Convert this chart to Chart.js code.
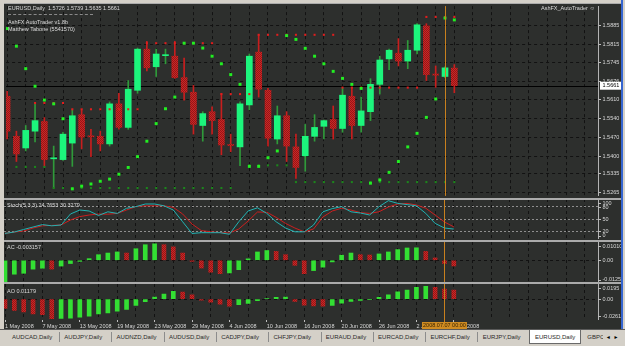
<!DOCTYPE html>
<html>
<head>
<meta charset="utf-8">
<script src="https://cdn.jsdelivr.net/npm/chart.js@4.4.0/dist/chart.umd.min.js"></script>
<style>
  body { margin:0; width:625px; height:346px; background:#d4d0c8; position:relative; overflow:hidden; font-family:'Liberation Sans', Arial, sans-serif; }
  canvas { position:absolute; left:4px; }
  .txt { position:absolute; font-size:5.5px; line-height:6px; color:#dcdcdc; white-space:pre; }
  .sep { position:absolute; left:4px; width:617px; height:2px; background:#ababab; }
  .tab { position:absolute; top:334px; font-size:6px; line-height:6px; color:#2a2a2a; white-space:nowrap; }
  .bar { position:absolute; top:332px; width:1px; height:10px; background:#8c8c8c; }
</style>
</head>
<body>
<div style="position:absolute;left:4px;top:3px;width:617px;height:326px;background:#2d2f2d"></div>
<canvas id="cMain" width="617" height="194" style="top:4px"></canvas>
<canvas id="cStoch" width="617" height="40" style="top:199px"></canvas>
<canvas id="cAc" width="617" height="41" style="top:242px"></canvas>
<canvas id="cAo" width="617" height="45" style="top:284px"></canvas>
<div class="sep" style="top:3px;height:1px"></div>
<div class="sep" style="top:198px"></div>
<div class="sep" style="top:240px"></div>
<div class="sep" style="top:282px"></div>

<div class="txt" id="head" style="left:8px;top:5px"></div>
<div style="position:absolute;left:8px;top:14px;width:85px;border-top:1px dashed #8a8a8a"></div>
<div class="txt" style="left:8px;top:19px">AshFX AutoTrader v1.8b</div>
<div class="txt" style="left:8px;top:26px">Matthew Tabone (5541570)</div>
<div class="txt" style="left:541px;top:5px">AshFX_AutoTrader ☺</div>
<div class="txt" id="tStoch" style="left:7px;top:202px"></div>
<div class="txt" id="tAc" style="left:7px;top:244px"></div>
<div class="txt" id="tAo" style="left:7px;top:288px"></div>

<div style="position:absolute;left:621px;top:0;width:2px;height:330px;background:#3565d0"></div>
<div style="position:absolute;left:0;top:329px;width:625px;height:17px;background:#d4d0c8;border-top:1px solid #5a5a5a"></div>
<div id="tabs"></div>

<script>
// EURUSD daily, 1 May 2008 .. 8 Jul 2008
const dates = [
  '1 May','2 May','5 May','6 May','7 May','8 May','9 May','12 May','13 May','14 May','15 May',
  '16 May','19 May','20 May','21 May','22 May','23 May','26 May','27 May','28 May','29 May','30 May',
  '2 Jun','3 Jun','4 Jun','5 Jun','6 Jun','9 Jun','10 Jun','11 Jun','12 Jun','13 Jun','16 Jun',
  '17 Jun','18 Jun','19 Jun','20 Jun','23 Jun','24 Jun','25 Jun','26 Jun','27 Jun','30 Jun',
  '1 Jul','2 Jul','3 Jul','4 Jul','7 Jul','8 Jul'
].map(d => d + ' 2008');

const open = [1.5622,1.5474,1.5431,1.5493,1.5529,1.5391,1.5388,1.5449,1.5554,1.5476,
  1.5474,1.5446,1.5594,1.5507,1.5644,1.5796,1.5731,1.5772,1.5770,1.5691,
  1.5637,1.5514,1.5565,1.5536,1.5444,1.5435,1.5590,1.5785,1.5644,1.5464,
  1.5550,1.5435,1.5402,1.5474,1.5511,1.5536,1.5503,1.5622,1.5514,1.5565,
  1.5666,1.5760,1.5781,1.5752,1.5792,1.5882,1.5704,1.5695,1.5726];
const high = [1.5640,1.5493,1.5514,1.5597,1.5543,1.5438,1.5489,1.5572,1.5572,1.5500,
  1.5493,1.5601,1.5633,1.5680,1.5800,1.5825,1.5796,1.5796,1.5825,1.5763,
  1.5662,1.5565,1.5583,1.5633,1.5482,1.5601,1.5778,1.5850,1.5651,1.5586,
  1.5565,1.5482,1.5518,1.5554,1.5534,1.5586,1.5651,1.5655,1.5619,1.5687,
  1.5770,1.5796,1.5835,1.5828,1.5890,1.5890,1.5734,1.5731,1.5739];
const low = [1.5464,1.5381,1.5420,1.5453,1.5363,1.5283,1.5385,1.5363,1.5428,1.5399,
  1.5420,1.5438,1.5500,1.5500,1.5633,1.5716,1.5695,1.5742,1.5688,1.5608,
  1.5482,1.5456,1.5482,1.5406,1.5417,1.5366,1.5572,1.5619,1.5438,1.5446,
  1.5381,1.5319,1.5345,1.5456,1.5464,1.5464,1.5489,1.5464,1.5489,1.5532,
  1.5630,1.5720,1.5734,1.5724,1.5778,1.5680,1.5655,1.5691,1.5635];
const close = [1.5493,1.5409,1.5496,1.5532,1.5388,1.5393,1.5482,1.5550,1.5471,1.5472,
  1.5446,1.5594,1.5507,1.5648,1.5796,1.5727,1.5778,1.5774,1.5691,1.5637,
  1.5518,1.5558,1.5532,1.5442,1.5440,1.5594,1.5770,1.5648,1.5467,1.5550,
  1.5438,1.5359,1.5474,1.5507,1.5532,1.5503,1.5626,1.5514,1.5568,1.5666,
  1.5756,1.5792,1.5752,1.5792,1.5886,1.5702,1.5700,1.5727,1.5661];

// bright green stop dots
const sar = [1.5872,1.5807,1.5724,1.5659,1.5608,1.5594,1.5539,1.5280,1.5290,1.5298,
  1.5308,1.5316,1.5334,1.5359,1.5399,1.5456,1.5521,1.5576,1.5619,1.5818,
  1.5818,1.5800,1.5770,1.5742,1.5702,1.5666,1.5363,1.5363,1.5395,1.5420,
  1.5846,1.5832,1.5799,1.5770,1.5742,1.5714,1.5688,1.5666,1.5651,1.5301,
  1.5313,1.5341,1.5381,1.5435,1.5485,1.5544,1.5612,1.5911,1.5904];
// red resistance dots
const resist = [null,null,null,1.5597,1.5597,1.5597,1.5597,1.5574,1.5574,1.5574,
  1.5574,1.5574,1.5574,1.5574,1.5574,1.5818,1.5818,1.5818,1.5818,1.5818,
  1.5818,1.5818,1.5818,1.5630,1.5630,1.5630,1.5630,1.5849,1.5849,1.5849,
  1.5849,1.5849,1.5849,1.5849,1.5849,1.5849,1.5654,1.5654,1.5654,1.5654,
  1.5654,1.5654,1.5654,1.5654,1.5654,1.5915,1.5915,1.5915,1.5915];
// dim green support dots
const support = [null,1.5361,1.5361,1.5361,1.5361,1.5283,1.5283,1.5283,1.5283,1.5283,
  1.5283,1.5283,1.5283,1.5283,1.5283,1.5283,1.5283,1.5283,1.5283,1.5283,
  1.5283,1.5283,1.5283,1.5283,1.5283,null,1.5367,1.5367,1.5367,1.5367,
  1.5367,1.5305,1.5305,1.5305,1.5305,1.5305,1.5305,1.5305,1.5305,1.5305,
  1.5305,1.5305,1.5305,1.5305,1.5305,1.5305,1.5305,1.5305,1.5305];

const stochK = [14,17.5,23.8,30,36,33,35,62.5,72.5,70,
  58.8,68,64,76.8,80.8,87.5,87.5,83,72.5,43,
  13.8,15.8,15.8,15.8,11.8,43,70,78,64,43,
  27.5,18,18,35,68,76,80.8,68,65,60,
  80.8,95.8,89,86,83,64,39,27.5,24.7653];
const stochD = [14,17.5,20,27.5,33,34,35,47.5,56,60,
  62.5,62,64,72.5,81,83,83,83,79,62.5,
  37.5,21,18,16,15,25,45,67.5,67,54,
  39,27.5,18,25,55,70,77,72.5,66,64,
  68,80,87.5,89,85,77,60,42.5,30.3279];

const ac = [-0.0125,-0.0077,-0.0072,-0.0049,-0.0044,-0.0049,-0.0032,-0.0018,-0.0006,0.0009,
  0.0031,0.0040,0.0046,0.0040,0.0064,0.0086,0.0091,0.0086,0.0074,0.0040,
  -0.0006,-0.0043,-0.0066,-0.0074,-0.0070,-0.0052,0.0008,0.0046,0.0054,0.0049,
  0.0031,-0.0028,-0.0074,-0.0057,-0.0038,-0.0009,0.0028,0.0040,0.0031,0.0029,
  0.0035,0.0046,0.0059,0.0068,0.0069,0.0049,0.0013,-0.0018,-0.003157];
const acPrev = -0.0140; // bar before 1 May
const ao = [-0.0120,-0.0146,-0.0163,-0.0189,-0.0198,-0.0250,-0.0246,-0.0243,-0.0233,-0.0220,
  -0.0189,-0.0176,-0.0155,-0.0133,-0.0081,-0.0033,0.0026,0.0065,0.0100,0.0091,
  0.0056,-0.0013,-0.0039,-0.0065,-0.0091,-0.0072,-0.0056,-0.0020,0.0007,0.0022,
  0.0026,-0.0030,-0.0078,-0.0087,-0.0090,-0.0080,-0.0052,-0.0030,-0.0017,-0.0005,
  0.0022,0.0056,0.0095,0.0117,0.0152,0.0165,0.0152,0.0130,0.01179];
const aoPrev = -0.0100;

const priceTicks = [1.5885, 1.5815, 1.5745, 1.5676, 1.5610, 1.5540, 1.5470, 1.5400, 1.5335, 1.5265];
const stochTicks = [100, 80, 50, 20, 0];
const stochLevels = [80, 50, 20];
const acTicks = [0.010102, 0, -0.012558];
const aoTicks = [0.0195, 0, -0.026149];
const markerIndex = 47;
const markerLabel = '2008.07.07 00:00';
const tabNames = ['AUDCAD,Daily','AUDJPY,Daily','AUDNZD,Daily','AUDUSD,Daily','CADJPY,Daily','CHFJPY,Daily',
  'EURAUD,Daily','EURCAD,Daily','EURCHF,Daily','EURJPY,Daily','EURUSD,Daily','GBPC'];
const activeTab = 'EURUSD,Daily';

// ---- text bits
const n = close.length - 1;
document.getElementById('head').textContent =
  'EURUSD,Daily  ' + [open[n], high[n], low[n], close[n]].map(v => v.toFixed(4)).join(' ');
document.getElementById('tStoch').textContent = 'Stoch(5,3,3) ' + stochK[n].toFixed(4) + ' ' + stochD[n].toFixed(4);
document.getElementById('tAc').textContent = 'AC ' + ac[n];
document.getElementById('tAo').textContent = 'AO ' + ao[n];

const tabs = document.getElementById('tabs');
tabNames.forEach((t, k) => {
  const left = 12 + k * 52.3;
  if (t === activeTab) {
    const box = document.createElement('div');
    box.style.cssText = `position:absolute;left:${left - 6}px;top:330px;width:50px;height:13px;background:#fff;border:1px solid #6a6a6a;border-top:none`;
    tabs.appendChild(box);
  }
  const d = document.createElement('div');
  d.className = 'tab'; d.style.left = left + 'px'; d.textContent = t;
  tabs.appendChild(d);
  if (k < 9) {
    const b = document.createElement('div');
    b.className = 'bar'; b.style.left = (left + 47) + 'px';
    tabs.appendChild(b);
  }
});
const arrows = document.createElement('div');
arrows.style.cssText = 'position:absolute;left:603px;top:330px;width:22px;height:14px;background:#d4d0c8;font-size:5px;line-height:14px;color:#000;white-space:pre';
arrows.textContent = '  ◄  ►';
tabs.appendChild(arrows);

// ---- chart helpers
const X_MIN = -0.107, X_MAX = 63.42;
const gridDark = '#121212';
const axisLine = '#b4b4b4';
const textCol = '#d8d8d8';
const markerColor = '#c8801e';
const font = { family: '"Liberation Sans", Arial', size: 5.5 };
const pt = (v, i) => ({ x: i, y: v });

function hatch(c1, c2) {
  const p = document.createElement('canvas');
  p.width = 2; p.height = 2;
  const g = p.getContext('2d');
  g.fillStyle = c1; g.fillRect(0, 0, 2, 2);
  g.fillStyle = c2; g.fillRect(0, 0, 1, 1); g.fillRect(1, 1, 1, 1);
  return g.createPattern(p, 'repeat');
}
const bearFill = hatch('#cc2626', '#951717');
const histRed = hatch('#cc2626', '#951717');
const histGreen = '#33df33';
const isUp = i => close[i] >= open[i];

function xAxis(withLabels) {
  const labelled = v => v % 4 === 0 && v < dates.length;
  return {
    type: 'linear', min: X_MIN, max: X_MAX, offset: false,
    afterBuildTicks: s => {
      const t = [];
      for (let v = 0; v < X_MAX; v += 2) t.push({ value: v });
      s.ticks = t;
    },
    afterFit: s => { s.height = withLabels ? 9.5 : 0; s.paddingLeft = 0; s.paddingRight = 0; },
    border: { display: false, dash: [3, 3] },
    grid: {
      color: gridDark, offset: false, drawTicks: withLabels, tickLength: 2.5,
      tickColor: c => (c.tick && labelled(c.tick.value)) ? '#bdbdbd' : 'rgba(0,0,0,0)'
    },
    ticks: {
      display: withLabels, autoSkip: false, maxRotation: 0, align: 'start', padding: 1,
      color: textCol, font, callback: v => labelled(v) ? dates[v] : ''
    }
  };
}

function panelY(min, max, levels, levelColor, dash) {
  return {
    position: 'right', min, max,
    afterBuildTicks: s => { s.ticks = levels.map(v => ({ value: v })); },
    afterFit: s => { s.width = 23; s.paddingTop = 0; s.paddingBottom = 0; },
    border: { display: true, color: axisLine, dash },
    grid: { color: levelColor, drawTicks: false },
    ticks: { display: false }
  };
}

function markerPlugin(extend) {
  return {
    id: 'marker',
    afterDatasetsDraw(chart) {
      const { ctx, chartArea: a, scales: { x } } = chart;
      const px = Math.round(x.getPixelForValue(markerIndex)) + 0.5;
      ctx.save();
      ctx.strokeStyle = markerColor; ctx.lineWidth = 1;
      ctx.beginPath(); ctx.moveTo(px, a.top); ctx.lineTo(px, a.bottom + extend); ctx.stroke();
      ctx.restore();
    }
  };
}

function sideLabels(values, fmt) {
  return {
    id: 'sideLabels',
    afterDraw(chart) {
      const { ctx, chartArea: a, scales: { y } } = chart;
      ctx.save();
      ctx.font = '5.5px "Liberation Sans"';
      ctx.fillStyle = textCol; ctx.strokeStyle = '#bdbdbd'; ctx.lineWidth = 1;
      ctx.textBaseline = 'middle'; ctx.textAlign = 'left';
      values.forEach(v => {
        const py = Math.min(Math.max(y.getPixelForValue(v), a.top + 4), a.bottom - 3.5);
        const ly = Math.round(py) + 0.5;
        ctx.beginPath(); ctx.moveTo(a.right, ly); ctx.lineTo(a.right + 3, ly); ctx.stroke();
        ctx.fillText(fmt(v), a.right + 4.5, py);
      });
      ctx.restore();
    }
  };
}

const base = {
  responsive: false, animation: false,
  layout: { padding: 0 },
  plugins: { legend: { display: false }, tooltip: { enabled: false } }
};

// ---- main price panel
const priceLine = {
  id: 'priceLine',
  beforeDatasetsDraw(chart) {
    const { ctx, chartArea: a, scales: { y } } = chart;
    const py = Math.round(y.getPixelForValue(close[n])) + 0.5;
    ctx.save();
    ctx.strokeStyle = '#000'; ctx.lineWidth = 1;
    ctx.beginPath(); ctx.moveTo(a.left, py); ctx.lineTo(a.right, py); ctx.stroke();
    ctx.restore();
  },
  afterDraw(chart) {
    const { ctx, chartArea: a, scales: { y } } = chart;
    const py = y.getPixelForValue(close[n]);
    ctx.save();
    ctx.fillStyle = '#fff'; ctx.fillRect(a.right + 2, py - 4, 21, 8);
    ctx.fillStyle = '#000'; ctx.font = '5.5px "Liberation Sans"';
    ctx.textBaseline = 'middle'; ctx.textAlign = 'left';
    ctx.fillText(close[n].toFixed(4), a.right + 4.5, py);
    ctx.restore();
  }
};

const dots = (data, r, color) => ({
  type: 'line', data: data.map(pt), showLine: false, pointStyle: 'rect',
  pointRadius: r, pointHoverRadius: r, pointBorderWidth: 0,
  pointBackgroundColor: color, borderColor: color
});

new Chart(document.getElementById('cMain'), {
  type: 'bar',
  data: {
    datasets: [
      dots(sar, 2.1, '#22ee22'),
      dots(resist, 1.45, '#e01e1e'),
      dots(support, 1.45, '#1c861c'),
      {
        type: 'bar', grouped: false, barThickness: 6, minBarLength: 1, borderWidth: 0,
        data: open.map((o, i) => ({ x: i, y: [o, close[i]] })),
        backgroundColor: c => isUp(c.dataIndex) ? '#1cf57c' : bearFill
      },
      {
        type: 'bar', grouped: false, barThickness: 1, borderWidth: 0,
        data: low.map((l, i) => ({ x: i, y: [l, high[i]] })),
        backgroundColor: c => isUp(c.dataIndex) ? '#2f9a3a' : '#c81e1e'
      }
    ]
  },
  options: {
    ...base,
    scales: {
      x: xAxis(false),
      y: {
        position: 'right', min: 1.5254, max: 1.5955,
        afterBuildTicks: s => { s.ticks = priceTicks.map(v => ({ value: v })); },
        afterFit: s => { s.width = 23; s.paddingTop = 0; s.paddingBottom = 0; },
        border: { display: true, color: axisLine, dash: [3, 3] },
        grid: { color: gridDark, tickLength: 3, tickColor: '#bdbdbd' },
        ticks: { color: textCol, font, padding: 1.5, autoSkip: false, callback: v => v.toFixed(4) }
      }
    }
  },
  plugins: [priceLine, markerPlugin(0)]
});

// ---- stochastic
new Chart(document.getElementById('cStoch'), {
  type: 'line',
  data: {
    datasets: [
      { data: stochK.map(pt), borderColor: '#20b4b4', borderWidth: 1, pointRadius: 0, tension: 0 },
      { data: stochD.map(pt), borderColor: '#cc1f1f', borderWidth: 1, pointRadius: 0, tension: 0 }
    ]
  },
  options: {
    ...base,
    scales: { x: xAxis(false), y: panelY(0, 100, stochLevels, '#8e8e8e', [2, 2]) }
  },
  plugins: [markerPlugin(0), sideLabels(stochTicks, v => String(v))]
});

// ---- AC / AO histograms
const rising = (arr, prev) => c => {
  const i = c.dataIndex;
  return arr[i] > (i ? arr[i - 1] : prev) ? histGreen : histRed;
};
const zeroFmt = v => v === 0 ? '0.00' : String(v);

new Chart(document.getElementById('cAc'), {
  type: 'bar',
  data: { datasets: [{ data: ac.map(pt), grouped: false, barThickness: 4, borderWidth: 0, backgroundColor: rising(ac, acPrev) }] },
  options: {
    ...base,
    scales: { x: xAxis(false), y: panelY(-0.012558, 0.010102, [0], gridDark, [3, 3]) }
  },
  plugins: [markerPlugin(0), sideLabels(acTicks, zeroFmt)]
});

const dateBox = {
  id: 'dateBox',
  afterDraw(chart) {
    const { ctx, chartArea: a, scales: { x } } = chart;
    const px = x.getPixelForValue(markerIndex);
    ctx.save();
    ctx.fillStyle = '#d08c22';
    ctx.fillRect(px - 22.5, a.bottom + 2.5, 45, 7);
    ctx.fillStyle = '#3a2400'; ctx.font = '5.5px "Liberation Sans"';
    ctx.textAlign = 'center'; ctx.textBaseline = 'middle';
    ctx.fillText(markerLabel, px, a.bottom + 6.2);
    ctx.restore();
  }
};

new Chart(document.getElementById('cAo'), {
  type: 'bar',
  data: { datasets: [{ data: ao.map(pt), grouped: false, barThickness: 4, borderWidth: 0, backgroundColor: rising(ao, aoPrev) }] },
  options: {
    ...base,
    scales: { x: xAxis(true), y: panelY(-0.026149, 0.0195, [0], gridDark, [3, 3]) }
  },
  plugins: [markerPlugin(3), sideLabels(aoTicks, zeroFmt), dateBox]
});
</script>
</body>
</html>
